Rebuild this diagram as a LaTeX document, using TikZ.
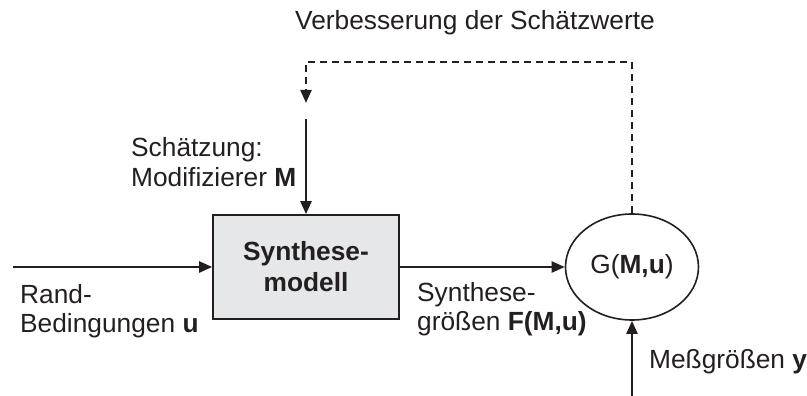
\documentclass[tikz,border=0pt]{standalone}
\usepackage{fontspec}
\setmainfont{Liberation Sans}
\usetikzlibrary{shapes.geometric,arrows.meta}
\definecolor{ink}{HTML}{231F20}
\definecolor{boxgray}{HTML}{E6E7E9}
\begin{document}
\begin{tikzpicture}[x=1pt,y=-1pt,
  every node/.style={font=\fontsize{26.3}{30}\selectfont, text=ink},
  lbl/.style={anchor=base west, inner sep=0pt},
  flow/.style={draw=ink, line width=2.3pt, -{Triangle[length=13pt,width=11pt]}},
  fb/.style={draw=ink, line width=2.3pt, dash pattern=on 7pt off 5pt, -{Triangle[length=13pt,width=11pt]}},
  modelbox/.style={draw=ink, line width=1.6pt, fill=boxgray, minimum width=186pt, minimum height=104pt, inner sep=0pt, align=center, font=\fontsize{26.3}{31}\selectfont\bfseries},
  gnode/.style={ellipse, draw=ink, line width=1.6pt, minimum width=133pt, minimum height=106pt, inner sep=0pt}
]
\useasboundingbox (0,0) rectangle (807,396);

\node[modelbox] (syn) at (306,267) {Synthese-\\modell};
\node[gnode] (G) at (632,267) {G(\textbf{M,u})};

\coordinate (in) at (13,267);
\coordinate (topin) at (306,119);
\coordinate (fbcorner) at (306,62);
\coordinate (fbend) at (306,103);
\coordinate (meas) at (632,396);

\draw[flow] (in) -- (syn.west);
\draw[flow] (topin) -- (syn.north);
\draw[flow] (syn.east) -- (G.west);
\draw[flow] (meas) -- (G.south);
\draw[fb] (G.north) |- (fbcorner) -- (fbend);

\node[lbl] (t1) at (295,30) {Verbesserung der Schätzwerte};
\node[lbl] (t2) at (131,157) {Schätzung:};
\node[lbl] (t3) at (131,186) {Modifizierer \textbf{M}};
\node[lbl] (t4) at (20,303) {Rand-};
\node[lbl] (t5) at (20,332) {Bedingungen \textbf{u}};
\node[lbl] (t6) at (417,301) {Synthese-};
\node[lbl] (t7) at (417,330) {größen \textbf{F(M,u)}};
\node[lbl] (t8) at (649,368) {Meßgrößen \textbf{y}};
\end{tikzpicture}
\end{document}
